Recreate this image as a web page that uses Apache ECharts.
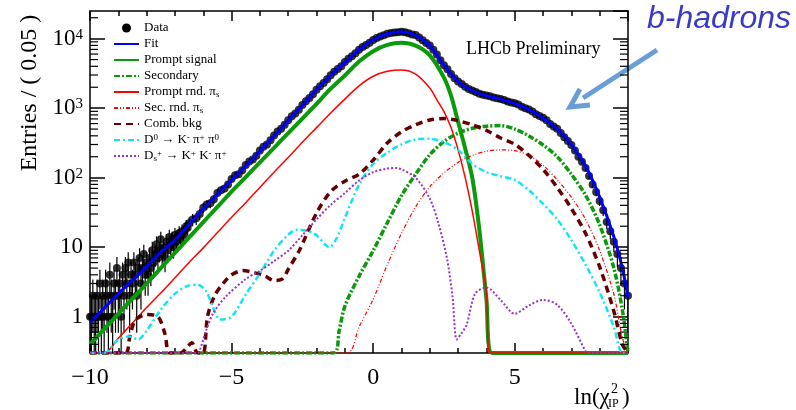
<!DOCTYPE html>
<html>
<head>
<meta charset="utf-8">
<script src="https://cdn.jsdelivr.net/npm/echarts@6.0.0/dist/echarts.min.js"></script>
<style>
html, body { margin: 0; padding: 0; background: #fff; }
#chart { width: 796px; height: 410px; }
</style>
</head>
<body>
<div id="chart"></div>
<script>
// ln(chi2_IP) fit, values (entries per 0.05)
const xMin = -10, xMax = 9;
const yMin = 0.3, yMax = 25000;

const dataX = [-10, -9.95, -9.9, -9.85, -9.8, -9.75, -9.7, -9.65, -9.6, -9.55,
  -9.5, -9.45, -9.4, -9.35, -9.3, -9.25, -9.2, -9.15, -9.1, -9.05,
  -9, -8.95, -8.9, -8.85, -8.8, -8.75, -8.7, -8.65, -8.6, -8.55,
  -8.5, -8.45, -8.4, -8.35, -8.3, -8.25, -8.2, -8.15, -8.1, -8.05,
  -8, -7.95, -7.9, -7.85, -7.8, -7.75, -7.7, -7.65, -7.6, -7.55,
  -7.5, -7.45, -7.4, -7.35, -7.3, -7.25, -7.2, -7.15, -7.1, -7.05,
  -7, -6.95, -6.9, -6.85, -6.8, -6.75, -6.7, -6.65, -6.6, -6.55,
  -6.5, -6.375, -6.25, -6.125, -6, -5.875, -5.75, -5.625, -5.5, -5.375, -5.25, -5.125,
  -5, -4.875, -4.75, -4.625, -4.5, -4.375, -4.25, -4.125, -4, -3.875, -3.75, -3.625,
  -3.5, -3.375, -3.25, -3.125, -3, -2.875, -2.75, -2.625, -2.5, -2.375, -2.25, -2.125,
  -2, -1.875, -1.75, -1.625, -1.5, -1.375, -1.25, -1.125, -1, -0.875, -0.75, -0.625,
  -0.5, -0.375, -0.25, -0.125, 0, 0.125, 0.25, 0.375, 0.5, 0.625, 0.75, 0.875,
  1, 1.125, 1.25, 1.375, 1.5, 1.625, 1.75, 1.875, 2, 2.125, 2.25, 2.375,
  2.5, 2.625, 2.75, 2.875, 3, 3.125, 3.25, 3.375, 3.5, 3.625, 3.75, 3.875,
  4, 4.125, 4.25, 4.375, 4.5, 4.625, 4.75, 4.875, 5, 5.125, 5.25, 5.375,
  5.5, 5.625, 5.75, 5.875, 6, 6.125, 6.25, 6.375, 6.5, 6.625, 6.75, 6.875,
  7, 7.125, 7.25, 7.375, 7.5, 7.625, 7.75, 7.875, 8, 8.125, 8.25, 8.375,
  8.5, 8.625, 8.75, 8.875, 9];
const dataY = [1, 1, 2, 1, 1, 2, 1, 3, 1, 2,
  1, 3, 2, 1, 4, 2, 1, 3, 2, 5,
  2, 3, 1, 4, 2, 5, 3, 6, 2, 4,
  3, 6, 4, 2, 5, 7, 3, 5, 8, 4,
  6, 4, 7, 5, 9, 6, 8, 11, 7, 9,
  13, 8, 10, 7, 12, 9, 14, 11, 13, 10,
  15, 12, 14, 16, 13, 17, 15, 18, 20, 19,
  22, 25, 26, 30, 37, 41, 43, 49, 60, 66, 70, 80,
  96, 108, 112, 128, 152, 171, 183, 206, 246, 279, 300, 345,
  405, 460, 505, 575, 670, 762, 840, 950, 1110, 1260, 1400, 1580,
  1840, 2070, 2300, 2600, 2970, 3350, 3650, 4020, 4600, 5140, 5600, 6180,
  6950, 7560, 8100, 8740, 9600, 10200, 10700, 11150, 11800, 12100, 12300, 12400,
  12600, 12350, 12000, 11500, 11250, 10400, 9500, 8650, 7950, 6900, 5900, 4900,
  4150, 3620, 3100, 2700, 2420, 2230, 2030, 1890, 1790, 1710, 1610, 1560,
  1520, 1480, 1420, 1385, 1360, 1310, 1250, 1210, 1180, 1125, 1050, 1000,
  960, 895, 820, 770, 730, 668, 590, 545, 505, 440, 380, 338,
  295, 245, 200, 170, 138, 106, 80, 62, 46, 34, 23, 17,
  12, 8, 5, 3, 2];

const fitX = [-10, -9.5, -9, -8.5, -8, -7.5, -7.3, -7, -6.5, -6, -5.5, -5, -4.5, -4, -3.5, -3, -2.5, -2, -1.5, -1, -0.5,
  0, 0.5, 1, 1.5, 2, 2.5, 3, 3.5, 4, 4.5, 5, 5.5, 6, 6.5, 7, 7.5, 8, 8.5, 8.8, 9];
const fitY = [0.81, 1.32, 2.14, 3.31, 5.25, 8.51, 10.0, 12.6, 21.4, 35.5, 57.5, 93.3, 148, 240, 398, 661, 1100, 1820, 2950, 4570, 6920,
  9550, 11750, 12590, 11220, 7940, 4170, 2400, 1780, 1510, 1350, 1170, 955, 724, 501, 302, 148, 52.5, 14.1, 5.0, 1.9];

const promptX = [-10, -9.5, -9, -8.5, -8, -7.5, -7, -6.5, -6, -5.5, -5, -4.5, -4, -3.5, -3, -2.5, -2, -1.5, -1, -0.5,
  0, 0.5, 1, 1.5, 2, 2.5, 2.75, 3, 3.25, 3.5, 3.75, 4, 4.2, 9];
const promptY = [0.40, 0.66, 1.10, 1.82, 3.0, 5.0, 8.3, 13.8, 22.9, 38, 63, 102, 166, 269, 437, 708, 1150, 1905, 2950, 4680,
  6610, 8130, 8710, 7940, 5750, 2750, 1510, 631, 263, 100, 17.8, 1.78, 0.3, 0.3];

const secX = [-10, -1.4, -1.2, -1, -0.5, 0, 0.5, 1, 1.5, 2, 2.5, 3, 3.5, 4, 4.5, 5, 5.5, 6, 6.5, 7, 7.5, 8, 8.5, 8.8, 9];
const secY = [0.3, 0.3, 0.63, 1.41, 3.8, 8.9, 22.4, 55, 112, 214, 331, 437, 513, 550, 562, 501, 398, 295, 200, 112, 56, 20.9, 5.0, 1.26, 0.3];

const rndX = [-10, -9.5, -9, -8.5, -8, -7.5, -7, -6.5, -6, -5.5, -5, -4.5, -4, -3.5, -3, -2.5, -2, -1.5, -1, -0.5,
  0, 0.5, 1, 1.5, 2, 2.25, 2.5, 2.75, 3, 3.25, 3.5, 3.75, 4, 4.12, 9];
const rndY = [0.3, 0.3, 0.49, 0.81, 1.35, 2.19, 3.63, 6.03, 9.77, 16.2, 26.9, 43.7, 72.4, 120, 195, 324, 525, 851, 1350, 2090,
  2880, 3390, 3550, 3090, 1950, 1320, 891, 525, 251, 100, 33.1, 8.9, 2.24, 0.3, 0.3];

const secRndX = [-10, -0.94, -0.5, 0, 0.5, 1, 1.5, 2, 2.5, 3, 3.5, 4, 4.5, 5, 5.5, 6, 6.5, 7, 7.5, 8, 8.5, 8.8, 9];
const secRndY = [0.3, 0.3, 0.71, 1.78, 5.6, 15.8, 38, 74, 117, 166, 209, 240, 251, 245, 209, 151, 93, 52.5, 25.1, 8.9, 2.1, 0.5, 0.3];

const combX = [-10, -8.75, -8.6, -8.4, -8, -7.6, -7.35, -7.2, -6.8, -6.6, -6.4, -6.2, -6, -5.85, -5.6, -5.3, -5, -4.6, -4.2, -3.8,
  -3.5, -3.2, -3, -2.6, -2, -1.5, -1, -0.5, 0, 0.5, 1, 1.5, 2, 2.5, 3, 3.5, 4, 4.5, 5, 5.5, 6, 6.5, 7, 7.5, 8, 8.5, 8.8, 9];
const combY = [0.3, 0.3, 0.5, 0.89, 1.07, 1.0, 0.56, 0.3, 0.3, 0.35, 0.42, 0.3, 0.3, 1.0, 2.0, 3.0, 4.0, 4.6, 4.3, 3.8,
  3.3, 3.5, 4.8, 9.1, 31, 63, 89, 112, 178, 316, 457, 575, 676, 708, 661, 575, 479, 372, 302, 209, 132, 72, 36, 15.8, 5.2, 1.2, 0.4, 0.3];

const d0X = [-10, -9.5, -9, -8.6, -8.3, -8, -7.5, -7, -6.5, -6.2, -5.9, -5.7, -5.4, -5, -4.5, -4, -3.5, -3, -2.7, -2.3,
  -2, -1.55, -1.3, -1, -0.5, 0, 0.5, 1, 1.5, 2, 2.5, 3, 3.5, 4, 4.5, 5, 5.5, 6, 6.5, 7, 7.5, 8, 8.5, 8.8, 9];
const d0Y = [0.3, 0.3, 0.47, 0.52, 0.47, 0.63, 1.26, 2.14, 2.82, 2.88, 2.34, 1.51, 0.91, 1.0, 2.09, 4.17, 8.9, 15.1, 17.8, 17.0,
  14.8, 10.0, 13.2, 26.3, 79, 158, 229, 302, 355, 363, 324, 251, 158, 120, 105, 93, 66, 42, 25.1, 12.6, 5.6, 2.24, 0.71, 0.3, 0.3];

const dsX = [-10, -6.2, -6.1, -5.9, -5.65, -5.2, -4.5, -4, -3.5, -3, -2.5, -2, -1.5, -1, -0.5, 0, 0.5, 0.8, 1, 1.5,
  2, 2.3, 2.6, 2.8, 2.95, 3.1, 3.3, 3.6, 4, 4.5, 5, 5.5, 6, 6.5, 7, 7.5, 7.6, 9];
const dsY = [0.3, 0.3, 0.35, 0.63, 1.12, 1.95, 3.47, 4.57, 6.3, 8.9, 14.8, 25.1, 40.7, 60, 91, 120, 135, 138, 132, 100,
  50, 22.4, 7.1, 2.0, 0.47, 0.56, 0.76, 2.14, 2.63, 1.74, 1.10, 1.45, 1.74, 1.48, 0.79, 0.32, 0.3, 0.3];

const yTickLabels = { 0: '1', 1: '10', 2: '{b|10}{sup|2}', 3: '{b|10}{sup|3}', 4: '{b|10}{sup|4}' };
const yMinorTicks = [0.4, 0.5, 0.6, 0.7, 0.8, 0.9, 2, 3, 4, 5, 6, 7, 8, 9, 20, 30, 40, 50, 60, 70, 80, 90,
  200, 300, 400, 500, 600, 700, 800, 900, 2000, 3000, 4000, 5000, 6000, 7000, 8000, 9000, 20000];

const legendLabels = {
  'Data': 'Data',
  'Fit': 'Fit',
  'Prompt signal': 'Prompt signal',
  'Secondary': 'Secondary',
  'Prompt rnd': 'Prompt rnd. π{sub|s}',
  'Sec rnd': 'Sec. rnd. π{sub|s}',
  'Comb bkg': 'Comb. bkg',
  'D0': 'D{sup|0} → K{sup|-} π{sup|+} π{sup|0}',
  'Ds': 'D{sub|s}{sup|+} → K{sup|+} K{sup|-} π{sup|+}'
};

const serif = '"Liberation Serif", "DejaVu Serif", serif';
const pairs = (xs, ys) => xs.map((x, i) => [x, ys[i]]);

const curve = (name, xs, ys, color, width, type, z) => ({
  name,
  type: 'line',
  data: pairs(xs, ys),
  symbol: 'none',
  smooth: 0.3,
  lineStyle: { color, width, type },
  itemStyle: { color },
  z
});

const black = { color: '#000', width: 1.5 };

const chart = echarts.init(document.getElementById('chart'));

chart.setOption({
  animation: false,
  backgroundColor: '#fff',
  grid: { left: 90, right: 168, top: 11, bottom: 57 },
  xAxis: [
    {
      type: 'value', min: xMin, max: xMax, interval: 5, position: 'bottom',
      axisLine: { onZero: false, lineStyle: black },
      axisTick: { inside: true, length: 10, lineStyle: black },
      axisLabel: {
        showMaxLabel: false, margin: 13, color: '#000', fontFamily: serif, fontSize: 24,
        formatter: v => (v < 0 ? '\u2212' + Math.abs(v) : String(v))
      },
      splitLine: { show: false }
    },
    {
      type: 'value', min: xMin, max: xMax, interval: 1, position: 'bottom',
      axisLine: { show: false, onZero: false },
      axisTick: { inside: true, length: 5, lineStyle: black },
      axisLabel: { show: false },
      splitLine: { show: false }
    },
    {
      type: 'value', min: xMin, max: xMax, interval: 5, position: 'top',
      axisLine: { onZero: false, lineStyle: black },
      axisTick: { inside: true, length: 10, lineStyle: black },
      axisLabel: { show: false },
      splitLine: { show: false }
    },
    {
      type: 'value', min: xMin, max: xMax, interval: 1, position: 'top',
      axisLine: { show: false, onZero: false },
      axisTick: { inside: true, length: 5, lineStyle: black },
      axisLabel: { show: false },
      splitLine: { show: false }
    }
  ],
  yAxis: [
    {
      type: 'log', logBase: 10, min: yMin, max: yMax, position: 'left',
      axisLine: { onZero: false, lineStyle: black },
      axisTick: { inside: true, length: 15, lineStyle: black },
      axisLabel: {
        showMinLabel: false, showMaxLabel: false, margin: 7, color: '#000',
        fontFamily: serif, fontSize: 23,
        formatter: v => {
          const k = Math.round(Math.log10(v));
          return Math.abs(Math.log10(v) - k) < 1e-6 && yTickLabels[k] !== undefined ? yTickLabels[k] : '';
        },
        rich: {
          b: { fontFamily: serif, fontSize: 23, lineHeight: 23, verticalAlign: 'bottom' },
          sup: { fontFamily: serif, fontSize: 15, lineHeight: 19, verticalAlign: 'top', padding: [0, 0, 12, 0] }
        }
      },
      splitLine: { show: false }
    },
    {
      type: 'log', logBase: 10, min: yMin, max: yMax, position: 'right',
      axisLine: { onZero: false, lineStyle: black },
      axisTick: { inside: true, length: 15, lineStyle: black },
      axisLabel: { show: false },
      splitLine: { show: false }
    }
  ],
  legend: {
    orient: 'vertical', left: 113, top: 21, padding: 0,
    itemWidth: 25, itemHeight: 9, itemGap: 2,
    selectedMode: false,
    itemStyle: { opacity: 0 },
    textStyle: {
      fontFamily: serif, fontSize: 13, color: '#000', lineHeight: 14,
      rich: {
        sub: { fontFamily: serif, fontSize: 9, verticalAlign: 'bottom', padding: [5, 0, 0, 0] },
        sup: { fontFamily: serif, fontSize: 9, verticalAlign: 'top', padding: [0, 0, 5, 0] }
      }
    },
    formatter: name => legendLabels[name],
    data: [{ name: 'Data', icon: 'circle', itemStyle: { opacity: 1 } },
      'Fit', 'Prompt signal', 'Secondary', 'Prompt rnd', 'Sec rnd', 'Comb bkg', 'D0', 'Ds']
  },
  series: [
    {
      name: 'errors',
      type: 'custom',
      z: 2,
      clip: true,
      data: dataX.map((x, i) => {
        const e = Math.sqrt(dataY[i]);
        return [x, Math.max(dataY[i] - e, yMin), dataY[i] + e];
      }),
      encode: { x: 0, y: [1, 2] },
      renderItem: (params, api) => {
        const lo = api.coord([api.value(0), api.value(1)]);
        const hi = api.coord([api.value(0), api.value(2)]);
        return {
          type: 'line',
          shape: { x1: lo[0], y1: lo[1], x2: hi[0], y2: hi[1] },
          style: { stroke: '#000', lineWidth: 1.2 }
        };
      }
    },
    {
      name: 'Data',
      type: 'scatter',
      data: pairs(dataX, dataY),
      symbol: 'circle',
      symbolSize: 8,
      itemStyle: { color: '#000' },
      z: 3
    },
    curve('Prompt signal', promptX, promptY, '#0a9a0a', 4, 'solid', 4),
    curve('Secondary', secX, secY, '#0a9a0a', 3.5, [6, 2, 2, 2], 4),
    curve('Prompt rnd', rndX, rndY, '#ff0000', 1.5, 'solid', 4),
    curve('Sec rnd', secRndX, secRndY, '#ff0000', 1.2, [4, 2, 1, 2, 1, 2], 4),
    curve('Comb bkg', combX, combY, '#660000', 3.5, [7, 5], 4),
    curve('D0', d0X, d0Y, '#12e4f4', 2.5, [6, 3, 2, 3], 4),
    curve('Ds', dsX, dsY, '#9a30c4', 2, [2, 2], 4),
    curve('Fit', fitX, fitY, '#0000ff', 3, 'solid', 5),
    {
      name: 'minor ticks',
      type: 'custom',
      z: 6,
      clip: false,
      data: yMinorTicks.map(v => [xMin, v]),
      renderItem: (params, api) => {
        const l = api.coord([xMin, api.value(1)]);
        const r = api.coord([xMax, api.value(1)]);
        return {
          type: 'group',
          children: [
            { type: 'line', shape: { x1: l[0], y1: l[1], x2: l[0] + 8, y2: l[1] }, style: { stroke: '#000', lineWidth: 1.2 } },
            { type: 'line', shape: { x1: r[0] - 8, y1: r[1], x2: r[0], y2: r[1] }, style: { stroke: '#000', lineWidth: 1.2 } }
          ]
        };
      }
    }
  ],
  graphic: [
    {
      type: 'text', x: 30, y: 93, rotation: Math.PI / 2,
      style: { text: 'Entries / ( 0.05 )', font: '24px ' + serif, fill: '#000', align: 'center', verticalAlign: 'middle' }
    },
    {
      type: 'text', x: 466, y: 40,
      style: { text: 'LHCb Preliminary', font: '18px ' + serif, fill: '#000' }
    },
    {
      type: 'text', x: 574, y: 386,
      style: { text: 'ln(χ', font: '23px ' + serif, fill: '#000' }
    },
    {
      type: 'text', x: 611, y: 382,
      style: { text: '2', font: '14px ' + serif, fill: '#000' }
    },
    {
      type: 'text', x: 608, y: 398,
      style: { text: 'IP', font: '12px ' + serif, fill: '#000' }
    },
    {
      type: 'text', x: 622, y: 386,
      style: { text: ')', font: '23px ' + serif, fill: '#000' }
    },
    {
      type: 'text', x: 647, y: 3,
      style: { text: 'b-hadrons', font: 'italic 32px "Liberation Sans", Arial, sans-serif', fill: '#3a3ac8' }
    },
    {
      type: 'line',
      shape: { x1: 657, y1: 50, x2: 583, y2: 98 },
      style: { stroke: '#6a9fd6', lineWidth: 5 }
    },
    {
      type: 'polyline',
      shape: { points: [[580, 89], [570, 107], [590, 105]] },
      style: { stroke: '#6a9fd6', lineWidth: 5, fill: null }
    }
  ]
});
</script>
</body>
</html>
